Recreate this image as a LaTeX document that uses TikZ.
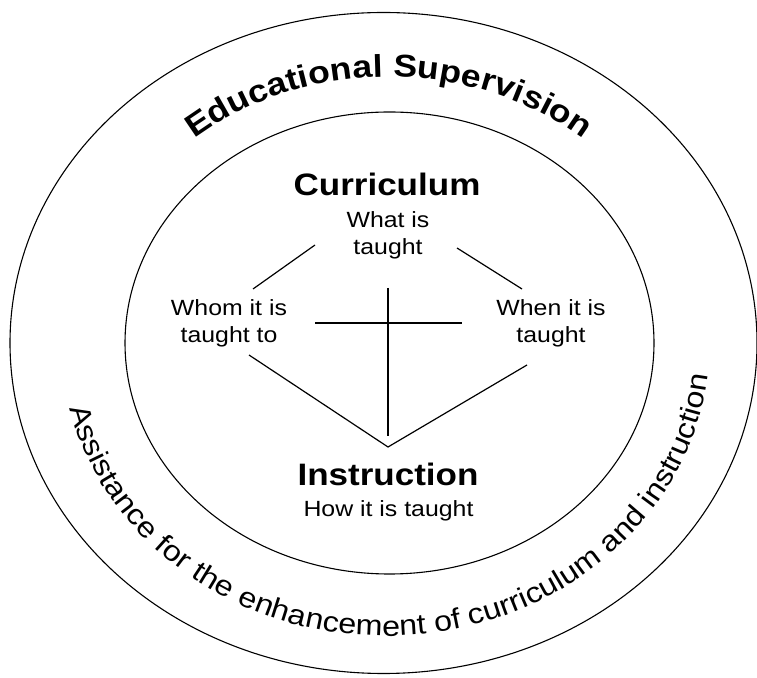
\documentclass[tikz,border=0pt]{standalone}
\usepackage{fontspec}
\setmainfont{Liberation Sans}[FakeStretch=1.13]
\usetikzlibrary{decorations.text}
\begin{document}
\begin{tikzpicture}[x=1pt,y=1pt,
  ring/.style={line width=1.1pt},
  link/.style={line width=1.2pt},
  head/.style={font=\fontsize{31}{36}\selectfont\bfseries, inner sep=0pt, anchor=base},
  sub/.style={font=\fontsize{22}{27}\selectfont, inner sep=0pt, align=center, anchor=base}]
\useasboundingbox (0,0) rectangle (757,677);
% rings
\draw[ring] (383.5,334) ellipse [x radius=373.5pt, y radius=330.5pt];
\draw[ring] (389.5,334) ellipse [x radius=264.5pt, y radius=231pt];
% curved titles
\path[decorate, decoration={text along path, text align=center,
  text={|\fontsize{31.5}{31.5}\selectfont\bfseries|Educational Supervision}}]
  (389,334) ++(160:303pt and 266pt) arc[start angle=160, end angle=20, x radius=303pt, y radius=266pt];
\path[decorate, decoration={text along path, text align=center,
  text={|\fontsize{28.5}{28.5}\selectfont|Assistance for the enhancement of curriculum and instruction}}]
  (386,334) ++(183.25:324pt and 293pt) arc[start angle=183.25, end angle=363.25, x radius=324pt, y radius=293pt];
% texts (base anchor = baseline of the last line)
\node[head] (cur) at (387,481) {Curriculum};
\node[sub] (what) at (388,422) {What is\\taught};
\node[sub] (whom) at (229,334) {Whom it is\\taught to};
\node[sub] (when) at (551,334) {When it is\\taught};
\node[head] (ins) at (388,191) {Instruction};
\node[sub] (how) at (388.5,160) {How it is taught};
% connector ends
\coordinate (ul1) at (315,432); \coordinate (ul2) at (253,388);
\coordinate (ur1) at (457,429); \coordinate (ur2) at (522,388);
\coordinate (vt) at (388,389);  \coordinate (vb) at (388,241);
\coordinate (hl) at (315,354);  \coordinate (hr) at (462,354);
\coordinate (ll) at (249,322);  \coordinate (lr) at (527,312);
\coordinate (apex) at (388,230);
\draw[link] (ul1) -- (ul2);
\draw[link] (ur1) -- (ur2);
\draw[link] (vt) -- (vb);
\draw[link] (hl) -- (hr);
\draw[link] (ll) -- (apex) -- (lr);
\end{tikzpicture}
\end{document}
